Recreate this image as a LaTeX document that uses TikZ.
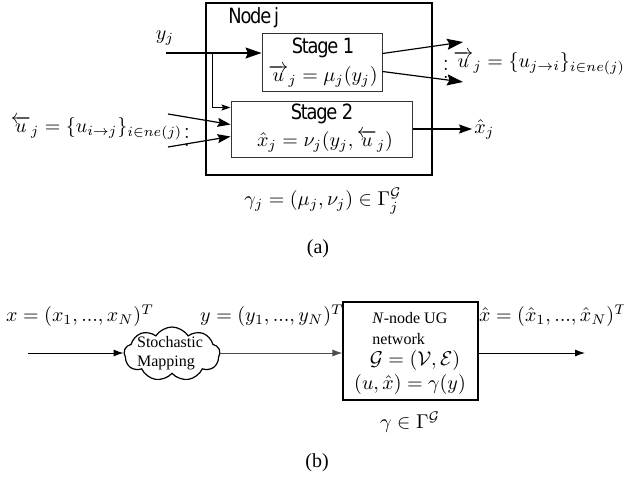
\documentclass[tikz,border=0pt]{standalone}
\usepackage[no-math]{fontspec}
\usepackage{amsmath}
\usetikzlibrary{arrows.meta,shapes.symbols,calc}
\newfontfamily\tnr{Liberation Serif}
\newfontfamily\dvs[FakeStretch=0.85,LetterSpace=-6]{DejaVu Sans}
\begin{document}
\begin{tikzpicture}[x=0.5pt,y=-0.5pt,
  stagebox/.style={draw=black!80, line width=0.5pt, inner sep=0pt},
  bigarr/.style={-{Stealth[length=8pt,width=5.5pt,inset=1.2pt]}, line width=0.6pt},
  midarr/.style={-{Stealth[length=6.5pt,width=4.5pt,inset=1pt]}, line width=0.6pt},
  smallarr/.style={-{Stealth[length=4.5pt,width=3pt,inset=0.8pt]}, line width=0.5pt},
  barr/.style={-{Latex[length=5pt,width=3.5pt]}, line width=0.5pt},
  stagetxt/.style={font=\dvs\fontsize{10.5}{12}\selectfont, inner sep=0pt},
  ulab/.style={font=\normalsize, inner sep=0pt},
  captxt/.style={font=\tnr\fontsize{10}{12}\selectfont}]
\useasboundingbox (0,0) rectangle (624,481);

% ---------- (a) ----------
\node[draw, line width=1.2pt, minimum width=113pt, minimum height=86pt, inner sep=0pt] (nodej) at (319,89) {};
\node[stagetxt, anchor=west] (nodejlab) at (228,17.5) {Node\kern1.5pt j};
\node[stagebox, minimum width=60pt, minimum height=28.5pt] (s1) at (322,62.5) {};
\node[stagetxt] (s1t) at (323,48) {Stage 1};
\node[inner sep=0pt] (s1f) at (323,76) {$\overrightarrow{u}_j=\mu_j(y_j)$};
\node[stagebox, minimum width=90.5pt, minimum height=28pt] (s2) at (321.5,129) {};
\node[stagetxt] (s2t) at (322,114) {Stage 2};
\node[inner sep=0pt] (s2f) at (325,141) {$\hat{x}_j=\nu_j(y_j,\overleftarrow{u}_j)$};

% y_j input
\coordinate (yin) at (166,53);
\coordinate (br) at (212,53);
\node (ylab) at (165,38) {$y_j$};
\draw[bigarr] (yin) -- (s1.west |- yin);
\draw[smallarr] (br) |- ($(s2.north west)+(0,7)$);

% left inputs
\coordinate (l1) at (168,114);
\coordinate (l2) at (168,147);
\draw[midarr] (l1) -- ($(s2.north west)+(0,24)$);
\draw[midarr] (l2) -- ($(s2.north west)+(0,36)$);
\node[inner sep=0pt] (ldots) at (187,131) {$\vdots$};
\node[ulab] (llab) at (96.5,128) {$\overleftarrow{u}_j=\{u_{i\to j}\}_{i\in ne(j)}$};

% stage 1 outputs
\coordinate (o1) at (463,42);
\coordinate (o2) at (463,82);
\draw[bigarr] ($(s1.north east)+(0,20)$) -- (o1);
\draw[bigarr] ($(s1.north east)+(0,38)$) -- (o2);
\node[inner sep=0pt] (rdots) at (446,63) {$\vdots$};
\node[ulab, anchor=west] (rlab) at (453,63) {$\overrightarrow{u}_j=\{u_{j\to i}\}_{i\in ne(j)}$};

% stage 2 output
\node[anchor=west, inner sep=1pt] (xhat) at (472,129) {$\hat{x}_j$};
\draw[midarr] (s2.east) -- (xhat.west);

\node (gam) at (323,201) {$\gamma_j=(\mu_j,\nu_j)\in\Gamma_j^{\mathcal{G}}$};
\node[captxt] (capa) at (318,249) {(a)};

% ---------- (b) ----------
\node[cloud, draw, line width=0.6pt, cloud puffs=9, cloud puff arc=115, aspect=1.9,
      minimum width=48pt, minimum height=27pt, inner sep=0pt] (cl) at (172,354) {};
\node[font=\tnr\footnotesize, align=left, inner sep=0pt] (cltxt) at (170,353) {Stochastic\\Mapping};
\node[draw, line width=0.6pt, minimum width=67.5pt, minimum height=49pt, inner sep=0pt] (bx) at (410.5,351) {};
\node[font=\tnr\footnotesize, anchor=west, inner sep=0pt] (bt1) at (372,318) {\textit{N}-node UG};
\node[font=\tnr\footnotesize, anchor=west, inner sep=0pt] (bt2) at (372,339) {network};
\node[inner sep=0pt] (bt3) at (415,360) {$\mathcal{G}=(\mathcal{V},\mathcal{E})$};
\node[inner sep=0pt] (bt4) at (410,384) {$(u,\hat{x})=\gamma(y)$};

\coordinate (xin) at (28,353);
\coordinate (xout) at (585,353);
\draw[barr] (xin) -- (xin -| cl.west);
\draw[barr, draw=black!70] (cl.east |- xin) -- (xin -| bx.west);
\draw[barr] (xin -| bx.east) -- (xout);

\node[inner sep=0pt] (xlab) at (80,316) {$x=(x_1,...,x_N)^T$};
\node[inner sep=0pt] (ylabb) at (272,316) {$y=(y_1,...,y_N)^T$};
\node[inner sep=0pt] (xhlab) at (553,316) {$\hat{x}=(\hat{x}_1,...,\hat{x}_N)^T$};
\node[inner sep=0pt] (gamb) at (410,422) {$\gamma\in\Gamma^{\mathcal{G}}$};
\node[captxt] (capb) at (317,463) {(b)};
\end{tikzpicture}
\end{document}
